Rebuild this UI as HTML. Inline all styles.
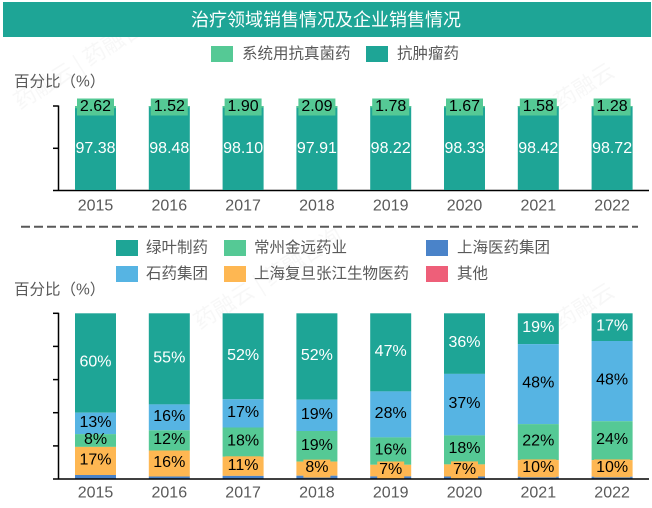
<!DOCTYPE html>
<html><head><meta charset="utf-8"><style>
html,body{margin:0;padding:0;background:#fff;}
svg{display:block;font-family:"Liberation Sans","Noto Sans CJK SC",sans-serif;}
</style></head><body>
<svg width="652" height="508" viewBox="0 0 652 508" xmlns="http://www.w3.org/2000/svg">
<rect x="0" y="0" width="652" height="508" fill="#fff"/>
<!-- watermarks -->
<g fill="#000" opacity="0.035" font-size="22" font-family="Noto Sans CJK SC, sans-serif">
<text x="20" y="110" transform="rotate(-32 20 110)">药融云 | 药融咨询</text>
<text x="200" y="330" transform="rotate(-32 200 330)">药融云 | 药融咨询</text>
<text x="560" y="110" transform="rotate(-32 560 110)">药融云</text>
<text x="560" y="330" transform="rotate(-32 560 330)">药融云</text>
</g>
<!-- title -->
<rect x="3" y="2" width="648" height="35" fill="#1ea596"/>
<text x="326" y="20" fill="#fff" font-size="18" text-anchor="middle" dominant-baseline="central">治疗领域销售情况及企业销售情况</text>
<!-- legend 1 -->
<rect x="211" y="46" width="22" height="16" fill="#55c995"/>
<text x="242" y="54" fill="#595959" font-size="15.5" dominant-baseline="central">系统用抗真菌药</text>
<rect x="366" y="46" width="22" height="16" fill="#1ea596"/>
<text x="397" y="54" fill="#595959" font-size="15.5" dominant-baseline="central">抗肿瘤药</text>
<text x="14" y="82" fill="#595959" font-size="15.5" dominant-baseline="central">百分比（%）</text>
<!-- top axis -->
<g stroke="#000" stroke-width="1.5">
<line x1="58.5" y1="105.5" x2="58.5" y2="190.5"/>
<line x1="53" y1="106" x2="58.5" y2="106"/>
<line x1="53" y1="148.3" x2="58.5" y2="148.3"/>
<line x1="53" y1="190.5" x2="649" y2="190.5"/>
</g>
<!-- top bars -->
<g font-size="16" text-anchor="middle" dominant-baseline="central">
<rect x="75" y="106" width="41" height="84" fill="#1ea596"/><rect x="75" y="106" width="41" height="2.2" fill="#55c995"/>
<rect x="148.8" y="106" width="41" height="84" fill="#1ea596"/><rect x="148.8" y="106" width="41" height="1.3" fill="#55c995"/>
<rect x="222.6" y="106" width="41" height="84" fill="#1ea596"/><rect x="222.6" y="106" width="41" height="1.6" fill="#55c995"/>
<rect x="296.4" y="106" width="41" height="84" fill="#1ea596"/><rect x="296.4" y="106" width="41" height="1.8" fill="#55c995"/>
<rect x="370.2" y="106" width="41" height="84" fill="#1ea596"/><rect x="370.2" y="106" width="41" height="1.5" fill="#55c995"/>
<rect x="444" y="106" width="41" height="84" fill="#1ea596"/><rect x="444" y="106" width="41" height="1.4" fill="#55c995"/>
<rect x="517.8" y="106" width="41" height="84" fill="#1ea596"/><rect x="517.8" y="106" width="41" height="1.3" fill="#55c995"/>
<rect x="591.6" y="106" width="41" height="84" fill="#1ea596"/><rect x="591.6" y="106" width="41" height="1.1" fill="#55c995"/>
<g fill="#55c995">
<rect x="77" y="98.5" width="37" height="17"/><rect x="150.8" y="98.5" width="37" height="17"/><rect x="224.6" y="98.5" width="37" height="17"/><rect x="298.4" y="98.5" width="37" height="17"/>
<rect x="372.2" y="98.5" width="37" height="17"/><rect x="446" y="98.5" width="37" height="17"/><rect x="519.8" y="98.5" width="37" height="17"/><rect x="593.6" y="98.5" width="37" height="17"/>
</g>
<g fill="#000">
<text x="95.5" y="106.5">2.62</text><text x="169.3" y="106.5">1.52</text><text x="243.1" y="106.5">1.90</text><text x="316.9" y="106.5">2.09</text>
<text x="390.7" y="106.5">1.78</text><text x="464.5" y="106.5">1.67</text><text x="538.3" y="106.5">1.58</text><text x="612.1" y="106.5">1.28</text>
</g>
<g fill="#fff">
<text x="95.5" y="148.3">97.38</text><text x="169.3" y="148.3">98.48</text><text x="243.1" y="148.3">98.10</text><text x="316.9" y="148.3">97.91</text>
<text x="390.7" y="148.3">98.22</text><text x="464.5" y="148.3">98.33</text><text x="538.3" y="148.3">98.42</text><text x="612.1" y="148.3">98.72</text>
</g>
<g fill="#595959">
<text x="95.5" y="206">2015</text><text x="169.3" y="206">2016</text><text x="243.1" y="206">2017</text><text x="316.9" y="206">2018</text>
<text x="390.7" y="206">2019</text><text x="464.5" y="206">2020</text><text x="538.3" y="206">2021</text><text x="612.1" y="206">2022</text>
</g>
</g>
<!-- dashed separator -->
<line x1="21" y1="226.7" x2="638" y2="226.7" stroke="#595959" stroke-width="2" stroke-dasharray="9 4"/>
<!-- legend 2 -->
<g font-size="15.5" fill="#595959" dominant-baseline="central">
<rect x="116" y="240" width="22" height="16" fill="#1ea596"/><text x="146" y="248">绿叶制药</text>
<rect x="224" y="240" width="22" height="16" fill="#55c995"/><text x="254" y="248">常州金远药业</text>
<rect x="426" y="240" width="22" height="16" fill="#4a83c9"/><text x="457" y="248">上海医药集团</text>
<rect x="116" y="266" width="22" height="16" fill="#56b4e3"/><text x="146" y="274">石药集团</text>
<rect x="224" y="266" width="22" height="16" fill="#feb752"/><text x="254" y="274">上海复旦张江生物医药</text>
<rect x="426" y="266" width="22" height="16" fill="#ee5f79"/><text x="457" y="274">其他</text>
</g>
<text x="14" y="290" fill="#595959" font-size="15.5" dominant-baseline="central">百分比（%）</text>
<!-- bottom bars -->
<g>
<rect x="75" y="313.3" width="41" height="99.4" fill="#1ea596"/><rect x="75" y="412.7" width="41" height="21.4" fill="#56b4e3"/><rect x="75" y="434.1" width="41" height="12.8" fill="#55c995"/><rect x="75" y="446.9" width="41" height="28.1" fill="#feb752"/><rect x="75" y="475" width="41" height="4" fill="#4a83c9"/>
<rect x="148.8" y="313.3" width="41" height="91.1" fill="#1ea596"/><rect x="148.8" y="404.4" width="41" height="25.9" fill="#56b4e3"/><rect x="148.8" y="430.3" width="41" height="20.2" fill="#55c995"/><rect x="148.8" y="450.5" width="41" height="26" fill="#feb752"/><rect x="148.8" y="476.5" width="41" height="2.5" fill="#4a83c9"/>
<rect x="222.6" y="313.3" width="41" height="86" fill="#1ea596"/><rect x="222.6" y="399.3" width="41" height="28.2" fill="#56b4e3"/><rect x="222.6" y="427.5" width="41" height="29.3" fill="#55c995"/><rect x="222.6" y="456.8" width="41" height="19.1" fill="#feb752"/><rect x="222.6" y="475.9" width="41" height="3.1" fill="#4a83c9"/>
<rect x="296.4" y="313.3" width="41" height="86.3" fill="#1ea596"/><rect x="296.4" y="399.6" width="41" height="31.4" fill="#56b4e3"/><rect x="296.4" y="431" width="41" height="30.6" fill="#55c995"/><rect x="296.4" y="461.6" width="41" height="14.1" fill="#feb752"/><rect x="296.4" y="475.7" width="41" height="3.3" fill="#4a83c9"/>
<rect x="370.2" y="313.3" width="41" height="78.1" fill="#1ea596"/><rect x="370.2" y="391.4" width="41" height="46" fill="#56b4e3"/><rect x="370.2" y="437.4" width="41" height="27.4" fill="#55c995"/><rect x="370.2" y="464.8" width="41" height="11.6" fill="#feb752"/><rect x="370.2" y="476.4" width="41" height="2.6" fill="#4a83c9"/>
<rect x="444" y="313.3" width="41" height="60.6" fill="#1ea596"/><rect x="444" y="373.9" width="41" height="61.5" fill="#56b4e3"/><rect x="444" y="435.4" width="41" height="29" fill="#55c995"/><rect x="444" y="464.4" width="41" height="12.1" fill="#feb752"/><rect x="444" y="476.5" width="41" height="2.5" fill="#4a83c9"/>
<rect x="517.8" y="313.3" width="41" height="30.8" fill="#1ea596"/><rect x="517.8" y="344.1" width="41" height="80" fill="#56b4e3"/><rect x="517.8" y="424.1" width="41" height="36" fill="#55c995"/><rect x="517.8" y="460.1" width="41" height="16.6" fill="#feb752"/><rect x="517.8" y="476.7" width="41" height="2.3" fill="#4a83c9"/>
<rect x="591.6" y="313.3" width="41" height="27.7" fill="#1ea596"/><rect x="591.6" y="341" width="41" height="80.2" fill="#56b4e3"/><rect x="591.6" y="421.2" width="41" height="38.9" fill="#55c995"/><rect x="591.6" y="460.1" width="41" height="16.6" fill="#feb752"/><rect x="591.6" y="476.7" width="41" height="2.3" fill="#4a83c9"/>
<g fill="#feb752">
<rect x="77.5" y="450.9" width="36" height="18"/><rect x="151.3" y="453.5" width="36" height="18"/><rect x="225.1" y="456.3" width="36" height="18"/><rect x="303.4" y="459.6" width="27" height="18"/>
<rect x="377.2" y="461.5" width="27" height="18"/><rect x="451" y="461.4" width="27" height="18"/><rect x="520.3" y="459.4" width="36" height="18"/><rect x="594.1" y="459.4" width="36" height="18"/>
</g>
</g>
<g font-size="16" text-anchor="middle" dominant-baseline="central">
<g fill="#fff">
<text x="95.5" y="362">60%</text><text x="169.3" y="357.9">55%</text><text x="243.1" y="355.3">52%</text><text x="316.9" y="355.5">52%</text>
<text x="390.7" y="351.3">47%</text><text x="464.5" y="342.6">36%</text><text x="538.3" y="327.7">19%</text><text x="612.1" y="326.1">17%</text>
</g>
<g fill="#000">
<text x="95.5" y="422.4">13%</text><text x="169.3" y="416.4">16%</text><text x="243.1" y="412.4">17%</text><text x="316.9" y="414.3">19%</text>
<text x="390.7" y="413.4">28%</text><text x="464.5" y="403.7">37%</text><text x="538.3" y="383.1">48%</text><text x="612.1" y="380.1">48%</text>
<text x="95.5" y="439.5">8%</text><text x="169.3" y="439.4">12%</text><text x="243.1" y="441.1">18%</text><text x="316.9" y="445.3">19%</text>
<text x="390.7" y="450.1">16%</text><text x="464.5" y="448.4">18%</text><text x="538.3" y="441.1">22%</text><text x="612.1" y="439.6">24%</text>
<text x="95.5" y="459.9">17%</text><text x="169.3" y="462.5">16%</text><text x="243.1" y="465.3">11%</text><text x="316.9" y="467.6">8%</text>
<text x="390.7" y="469.5">7%</text><text x="464.5" y="469.4">7%</text><text x="538.3" y="467.4">10%</text><text x="612.1" y="467.4">10%</text>
</g>
<g fill="#595959">
<text x="95.5" y="493">2015</text><text x="169.3" y="493">2016</text><text x="243.1" y="493">2017</text><text x="316.9" y="493">2018</text>
<text x="390.7" y="493">2019</text><text x="464.5" y="493">2020</text><text x="538.3" y="493">2021</text><text x="612.1" y="493">2022</text>
</g>
</g>
<g stroke="#000" stroke-width="1.5">
<line x1="58.5" y1="312.8" x2="58.5" y2="479"/>
<line x1="53" y1="313.3" x2="58.5" y2="313.3"/>
<line x1="53" y1="346.4" x2="58.5" y2="346.4"/>
<line x1="53" y1="379.6" x2="58.5" y2="379.6"/>
<line x1="53" y1="412.7" x2="58.5" y2="412.7"/>
<line x1="53" y1="445.9" x2="58.5" y2="445.9"/>
<line x1="53" y1="479" x2="649" y2="479"/>
</g>
</svg>
</body></html>
